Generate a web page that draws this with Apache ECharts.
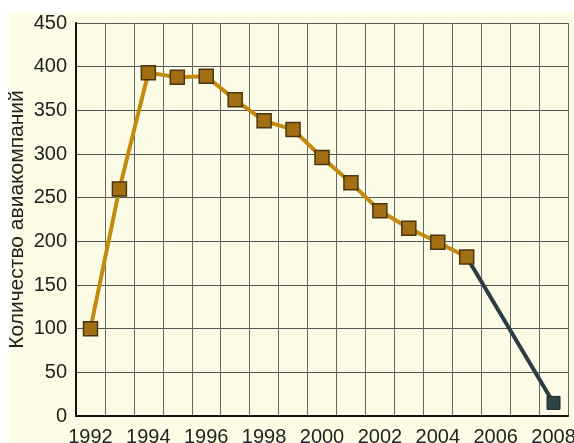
<!DOCTYPE html>
<html>
<head>
<meta charset="utf-8">
<script src="https://cdn.jsdelivr.net/npm/echarts@6/dist/echarts.min.js"></script>
<style>
  html, body { margin: 0; padding: 0; background: #ffffff; }
  #chart { width: 574px; height: 443px; }
</style>
</head>
<body>
<div id="chart"></div>
<script>
// годы (категории) и число авиакомпаний
var years = ['1992', '1993', '1994', '1995', '1996', '1997', '1998', '1999', '2000',
             '2001', '2002', '2003', '2004', '2005', '2006', '2007', '2008'];
var counts = [100, 260, 393, 388, 389, 362, 338, 328, 296, 267, 235, 215, 199, 182, null, null, null];
// прогноз: от 2005 к 2008
var forecast = [null, null, null, null, null, null, null, null, null, null, null, null, null, 182, null, null, 15];
var yTicks = { min: 0, max: 450, step: 50 };

var fontName = '"Liberation Sans Narrow", "Liberation Sans", Arial, sans-serif';

var myChart = echarts.init(document.getElementById('chart'));

var forecastData = forecast.map(function (v, i) {
  if (v === null) return null;
  if (i === 16) return v;
  return { value: v, symbol: 'none' };
});

var option = {
  animation: false,
  graphic: [{
    type: 'rect',
    z: -10,
    silent: true,
    shape: { x: 10, y: 13, width: 564, height: 430 },
    style: { fill: '#fcfce6' }
  }],
  grid: { left: 76, right: 6, top: 23, bottom: 27, outerBoundsMode: 'none' },
  xAxis: {
    type: 'category',
    data: years,
    boundaryGap: true,
    axisLine: { show: true, lineStyle: { color: '#111', width: 2 } },
    axisTick: { show: false },
    axisLabel: {
      interval: 1,
      color: '#222',
      fontFamily: fontName,
      fontSize: 20,
      margin: 11
    },
    splitLine: { show: true, interval: 0, lineStyle: { color: '#666', width: 1 } }
  },
  yAxis: {
    type: 'value',
    min: yTicks.min,
    max: yTicks.max,
    interval: yTicks.step,
    name: 'Количество авиакомпаний',
    nameLocation: 'middle',
    nameGap: 48,
    nameMoveOverlap: false,
    nameTextStyle: { color: '#222', fontFamily: fontName, fontSize: 21 },
    axisLine: { show: true, lineStyle: { color: '#111', width: 2 } },
    axisTick: { show: false },
    axisLabel: { color: '#222', fontFamily: fontName, fontSize: 20, margin: 9 },
    splitLine: { show: true, lineStyle: { color: '#555', width: 1 } }
  },
  series: [{
    name: 'прогноз',
    type: 'line',
    data: forecastData,
    connectNulls: true,
    z: 2,
    symbol: 'rect',
    symbolSize: 13,
    lineStyle: { color: '#2b3d42', width: 4 },
    itemStyle: { color: '#2d4448', borderColor: '#1a2426', borderWidth: 1 }
  }, {
    name: 'авиакомпании',
    type: 'line',
    data: counts,
    z: 3,
    symbol: 'rect',
    symbolSize: 14,
    lineStyle: { color: '#c48a0e', width: 4 },
    itemStyle: { color: '#a16f12', borderColor: '#4a3510', borderWidth: 1.5 }
  }]
};

myChart.setOption(option);
</script>
</body>
</html>
